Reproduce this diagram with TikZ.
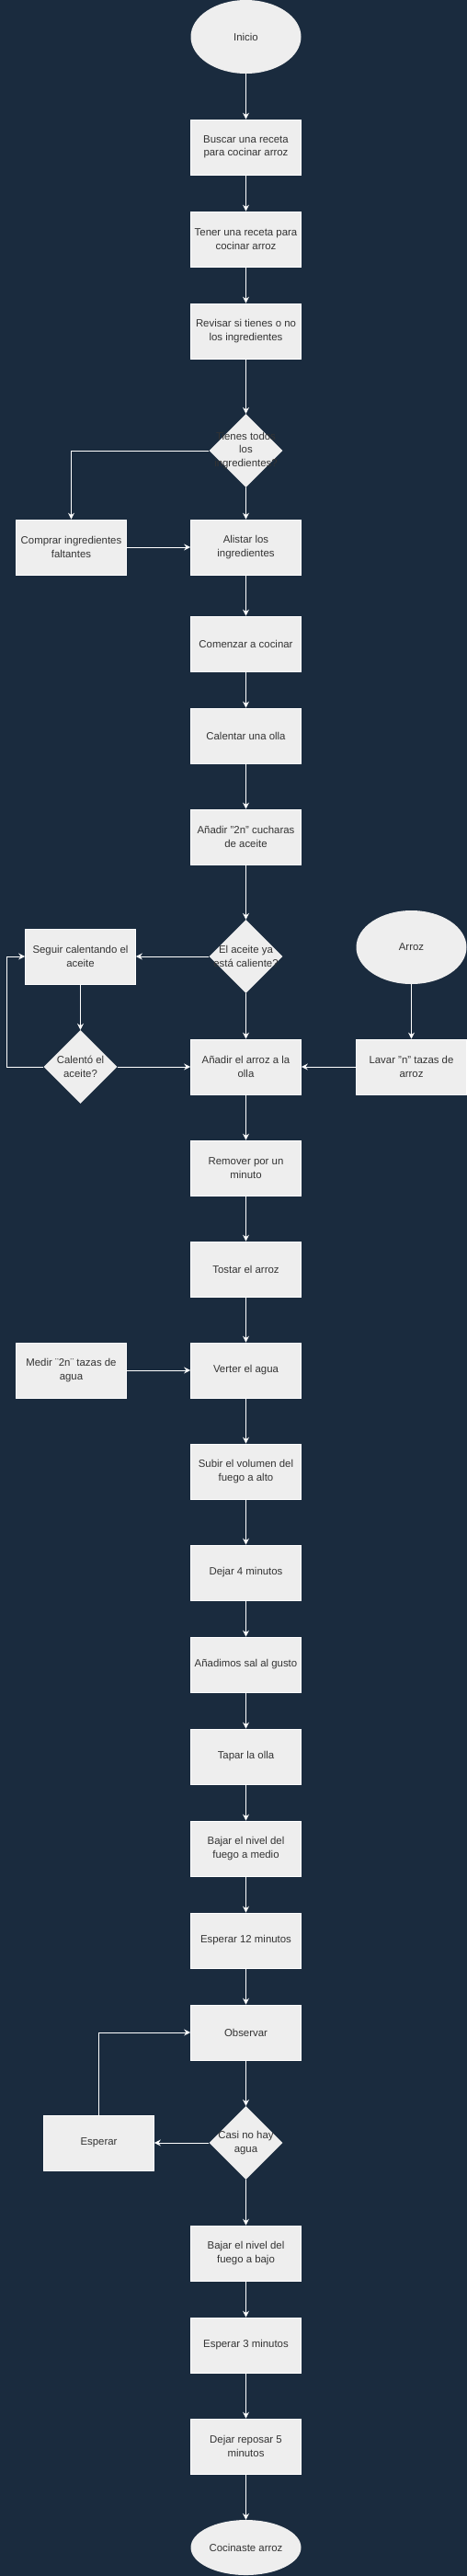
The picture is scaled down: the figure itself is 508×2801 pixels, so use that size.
\documentclass[tikz,border=0pt]{standalone}
\usepackage{fontspec}
\setmainfont{Liberation Sans}
\usepackage{tikz}
\usetikzlibrary{arrows.meta,positioning,shapes.geometric}
\definecolor{fondoazul}{RGB}{26,43,62}
\definecolor{cajagris}{RGB}{238,238,238}
\definecolor{textogris}{RGB}{51,51,51}
\tikzset{
  pasobox/.style={
    rectangle, draw=white, fill=cajagris, line width=0.8pt,
    minimum width=120pt, minimum height=60pt,
    inner sep=1pt, align=center, text=textogris,
    font=\fontsize{11.4}{14.5}\selectfont
  },
  extremo/.style={
    ellipse, draw=none, fill=cajagris,
    minimum width=120pt, minimum height=80pt, inner sep=0pt,
    align=center, text=textogris, font=\fontsize{11.4}{14.5}\selectfont
  },
  decrombo/.style={
    diamond, draw=none, fill=cajagris,
    minimum width=80pt, minimum height=80pt, inner sep=0pt
  },
  dectexto/.style={
    align=center, text=textogris, inner sep=0pt,
    font=\fontsize{11.4}{14.5}\selectfont
  },
  flecha/.style={-{Stealth[length=7pt,width=7pt,inset=2.5pt]}, white, line width=0.8pt}
}

\begin{document}
\begin{tikzpicture}[x=1pt, y=-1pt]
  % Fondo
  \fill[fondoazul] (0,0) rectangle (508,2801);
  \useasboundingbox (0,0) rectangle (508,2801);

  % Columna principal
  \node[extremo] (inicio) at (267.5,40) {Inicio};
  \node[pasobox] (buscar) at (267.5,160) {Buscar una receta\\para cocinar arroz};
  \node[pasobox] (tener) at (267.5,260) {Tener una receta para\\cocinar arroz};
  \node[pasobox] (revisar) at (267.5,360) {Revisar si tienes o no\\los ingredientes};
  \node[decrombo, label={[dectexto]center:{Tienes todos\\los\\ingredientes?}}] (tienes) at (267.5,490) {};
  \node[pasobox] (alistar) at (267.5,595) {Alistar los\\ingredientes};
  \node[pasobox] (comenzar) at (267.5,700) {Comenzar a cocinar};
  \node[pasobox] (calentar) at (267.5,800) {Calentar una olla};
  \node[pasobox] (aceite) at (267.5,910) {Añadir "2n" cucharas\\de aceite};
  \node[decrombo, label={[dectexto]center:{El aceite ya\\está caliente?}}] (caliente) at (267.5,1040) {};
  \node[pasobox] (anadir) at (267.5,1160) {Añadir el arroz a la\\olla};
  \node[pasobox] (remover) at (267.5,1270) {Remover por un\\minuto};
  \node[pasobox] (tostar) at (267.5,1380) {Tostar el arroz};
  \node[pasobox] (verter) at (267.5,1490) {Verter el agua};
  \node[pasobox] (subir) at (267.5,1600) {Subir el volumen del\\fuego a alto};
  \node[pasobox] (dejar) at (267.5,1710) {Dejar 4 minutos};
  \node[pasobox] (sal) at (267.5,1810) {Añadimos sal al gusto};
  \node[pasobox] (tapar) at (267.5,1910) {Tapar la olla};
  \node[pasobox] (medio) at (267.5,2010) {Bajar el nivel del\\fuego a medio};
  \node[pasobox] (espdoce) at (267.5,2110) {Esperar 12 minutos};
  \node[pasobox] (observar) at (267.5,2210) {Observar};
  \node[decrombo, label={[dectexto]center:{Casi no hay\\agua}}] (casi) at (267.5,2330) {};
  \node[pasobox] (bajo) at (267.5,2450) {Bajar el nivel del\\fuego a bajo};
  \node[pasobox] (esptres) at (267.5,2550) {Esperar 3 minutos};
  \node[pasobox] (reposar) at (267.5,2660) {Dejar reposar 5\\minutos};
  \node[extremo, minimum height=60pt] (fin) at (267.5,2770) {Cocinaste arroz};

  % Ramas laterales
  \node[pasobox] (comprar) at (77.5,595) {Comprar ingredientes\\faltantes};
  \node[pasobox] (seguir) at (87.5,1040) {Seguir calentando el\\aceite};
  \node[decrombo, label={[dectexto]center:{Calentó el\\aceite?}}] (calento) at (87.5,1160) {};
  \node[extremo] (arroz) at (447.5,1030) {Arroz};
  \node[pasobox] (lavar) at (447.5,1160) {Lavar "n" tazas de\\arroz};
  \node[pasobox] (medir) at (77.5,1490) {Medir ¨2n¨ tazas de\\agua};
  \node[pasobox] (esperar) at (107.5,2330) {Esperar};
  \coordinate (bucle) at (7.5,1160);

  % Flechas
  \foreach \a/\b in {inicio/buscar,buscar/tener,tener/revisar,revisar/tienes,
                     tienes/alistar,alistar/comenzar,comenzar/calentar,
                     calentar/aceite,aceite/caliente,caliente/anadir,
                     anadir/remover,remover/tostar,tostar/verter,verter/subir,
                     subir/dejar,dejar/sal,sal/tapar,tapar/medio,medio/espdoce,
                     espdoce/observar,observar/casi,casi/bajo,bajo/esptres,
                     esptres/reposar,reposar/fin}
    \draw[flecha] (\a) -- (\b);
  \draw[flecha] (tienes.west) -| (comprar.north);
  \draw[flecha] (comprar) -- (alistar);
  \draw[flecha] (caliente.west) -- (seguir.east);
  \draw[flecha] (seguir) -- (calento);
  \draw[flecha] (calento.west) -- (bucle) |- (seguir.west);
  \draw[flecha] (calento.east) -- (anadir.west);
  \draw[flecha] (arroz) -- (lavar);
  \draw[flecha] (lavar) -- (anadir);
  \draw[flecha] (medir) -- (verter);
  \draw[flecha] (casi.west) -- (esperar.east);
  \draw[flecha] (esperar.north) |- (observar.west);
\end{tikzpicture}
\end{document}
